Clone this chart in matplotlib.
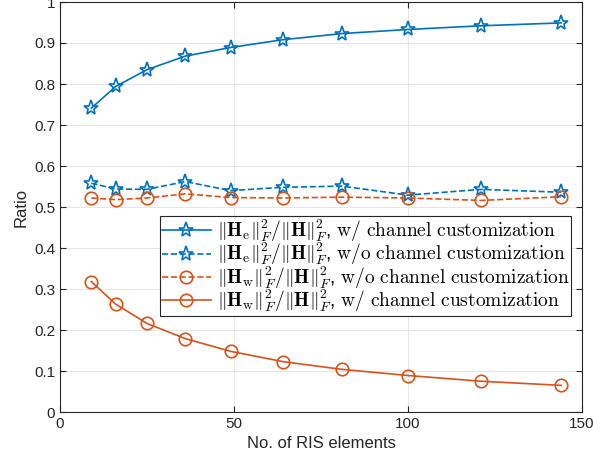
import matplotlib
matplotlib.use("Agg")
import matplotlib.pyplot as plt

plt.rcParams["font.family"] = ["Liberation Sans", "DejaVu Sans"]
plt.rcParams["mathtext.fontset"] = "cm"

# RIS element counts (square arrays)
n_elements = [9, 16, 25, 36, 49, 64, 81, 100, 121, 144]

he_with = [0.741, 0.794, 0.835, 0.868, 0.889, 0.908, 0.923, 0.933, 0.942, 0.949]
he_without = [0.558, 0.544, 0.543, 0.562, 0.540, 0.548, 0.551, 0.529, 0.543, 0.536]
hw_without = [0.522, 0.518, 0.522, 0.532, 0.523, 0.522, 0.524, 0.522, 0.516, 0.525]
hw_with = [0.318, 0.263, 0.216, 0.179, 0.148, 0.123, 0.104, 0.089, 0.075, 0.065]

labels = [
    r"$\|\mathbf{H}_\mathrm{e}\|_F^2/\|\mathbf{H}\|_F^2$, $\mathrm{w/\ channel\ customization}$",
    r"$\|\mathbf{H}_\mathrm{e}\|_F^2/\|\mathbf{H}\|_F^2$, $\mathrm{w/o\ channel\ customization}$",
    r"$\|\mathbf{H}_\mathrm{w}\|_F^2/\|\mathbf{H}\|_F^2$, $\mathrm{w/o\ channel\ customization}$",
    r"$\|\mathbf{H}_\mathrm{w}\|_F^2/\|\mathbf{H}\|_F^2$, $\mathrm{w/\ channel\ customization}$",
]

blue = "#0072BD"
orange = "#D95319"

fig = plt.figure(figsize=(5.93, 4.69), dpi=100)
ax = fig.add_axes([60 / 593, 1 - 412 / 469, 522 / 593, 410 / 469])

ax.plot(n_elements, he_with, "-", color=blue, marker="*", ms=11, mfc="none",
        mew=1.2, lw=1.2, label=labels[0])
ax.plot(n_elements, he_without, "--", color=blue, marker="*", ms=11, mfc="none",
        mew=1.2, lw=1.2, label=labels[1])
ax.plot(n_elements, hw_without, "--", color=orange, marker="o", ms=9, mfc="none",
        mew=1.2, lw=1.2, label=labels[2])
ax.plot(n_elements, hw_with, "-", color=orange, marker="o", ms=9, mfc="none",
        mew=1.2, lw=1.2, label=labels[3])

ax.set_xlim(0, 150)
ax.set_ylim(0, 1)
ax.set_xticks([0, 50, 100, 150])
ax.set_yticks([i / 10 for i in range(11)])
ax.set_yticklabels(["0", "0.1", "0.2", "0.3", "0.4", "0.5", "0.6", "0.7", "0.8", "0.9", "1"])
ax.tick_params(direction="in", top=True, right=True, labelsize=11, colors="#262626",
               length=4)
ax.grid(True, color="#e6e6e6", lw=0.7)
ax.set_axisbelow(True)
for s in ax.spines.values():
    s.set_color("#262626")
    s.set_linewidth(0.8)

ax.set_xlabel("No. of RIS elements", fontsize=12, color="#262626")
ax.set_ylabel("Ratio", fontsize=12, color="#262626")

leg = ax.legend(loc="lower right", bbox_to_anchor=(0.979, 0.234), fontsize=14,
                fancybox=False, edgecolor="#262626", framealpha=1,
                handlelength=2.5, borderpad=0.1, labelspacing=-0.15,
                handletextpad=0.3, borderaxespad=0)
leg.get_frame().set_linewidth(0.8)

fig.savefig("out.png", dpi=100)
